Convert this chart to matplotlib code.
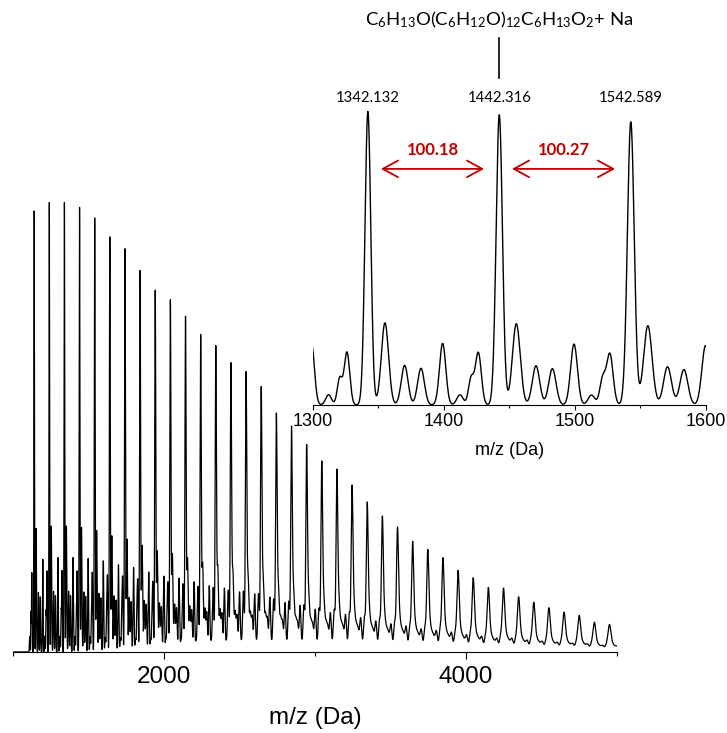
import numpy as np
import matplotlib.pyplot as plt

plt.rcParams['font.family'] = ['Liberation Sans', 'DejaVu Sans']

peak_mz = [1142.0, 1242.1, 1342.1, 1442.3, 1542.6, 1642.8, 1743.0, 1843.2, 1943.4, 2043.6,
           2143.8, 2244.0, 2344.2, 2444.4, 2544.6, 2644.8, 2745.0, 2845.2, 2945.4, 3045.6,
           3145.8, 3246.0, 3346.2, 3446.4, 3546.6, 3646.8, 3747.0, 3847.2, 3947.4, 4047.6,
           4147.8, 4248.0, 4348.2, 4448.4, 4548.6, 4648.8, 4749.0, 4849.2, 4949.4]
peak_int = [441, 450, 450, 445, 434, 415, 403, 381, 361, 351,
            334, 315, 303, 285, 275, 259, 232, 218, 199, 182,
            173, 157, 140, 126, 115, 101, 93, 85, 73, 66,
            57, 56, 48, 43, 38, 34, 31, 25, 23]

# Piki towarzyszące (przesunięcie od piku głównego, udział, szerokość) - z powiększenia
sat_offset = [-30.0, -21.5, -16.0, 13.0, 28.0, 40.5, 57.0]
sat_ratio = [0.035, 0.09, 0.18, 0.28, 0.135, 0.125, 0.21]
sat_sigma = [2.4, 2.0, 2.3, 3.0, 2.8, 2.8, 2.6]
main_sigma = 2.4

# Opisy w powiększeniu
label_mz = [1342.132, 1442.316, 1542.589]
label_txt = ['1342.132', '1442.316', '1542.589']
diff_txt = ['100.18', '100.27']
formula = r'$\mathregular{C_6H_{13}O(C_6H_{12}O)_{12}C_6H_{13}O_2}$+ Na'
red = '#C00000'


def spectrum(mz):
    y = np.zeros_like(mz)
    for m, h in zip(peak_mz, peak_int):
        w = (m / 1442.0) ** 1.1  # rozdzielczość spada z masą
        y += h * np.exp(-0.5 * ((mz - m) / (main_sigma * w)) ** 2)
        for off, r, s in zip(sat_offset, sat_ratio, sat_sigma):
            y += h * r * np.exp(-0.5 * ((mz - m - off) / (s * w)) ** 2)
    return y


fig = plt.figure(figsize=(7.27, 7.33), dpi=100)

# Widmo całe
ax = fig.add_axes([0.0175, 0.1105, 0.8312, 0.6276])
x_full = np.arange(1000, 5000, 0.2)
ax.plot(x_full, spectrum(x_full), color='black', lw=0.9)
ax.set_xlim(1000, 5000)
ax.set_ylim(0, 460)
for s in ['left', 'top', 'right']:
    ax.spines[s].set_visible(False)
ax.spines['bottom'].set_linewidth(0.8)
ax.set_yticks([])
ax.set_xticks([2000, 4000])
ax.set_xticks([1000, 3000, 5000], minor=True)
ax.tick_params(axis='x', which='major', length=5, width=0.8, labelsize=17.5, pad=5)
ax.tick_params(axis='x', which='minor', length=3, width=0.8)
ax.set_xlabel('m/z (Da)', fontsize=17.5, labelpad=14)
ax.patch.set_alpha(0)

# Powiększenie 1300-1600
ins = fig.add_axes([0.4301, 0.4475, 0.5411, 0.4093])
x_zoom = np.arange(1300, 1600.05, 0.1)
ins.plot(x_zoom, spectrum(x_zoom), color='black', lw=1.0)
ins.set_xlim(1300, 1600)
ins.set_ylim(0, 460)
for s in ['left', 'top', 'right']:
    ins.spines[s].set_visible(False)
ins.spines['bottom'].set_linewidth(0.8)
ins.set_yticks([])
ins.set_xticks([1300, 1400, 1500, 1600])
ins.set_xticks([1350, 1450, 1550], minor=True)
ins.tick_params(axis='x', which='major', length=3.6, width=0.8, labelsize=13, pad=2.5)
ins.tick_params(axis='x', which='minor', length=2.2, width=0.8)
ins.set_xlabel('m/z (Da)', fontsize=13, labelpad=8)
ins.patch.set_alpha(0)

# etykiety pików
for m, t in zip(label_mz, label_txt):
    ins.text(m, 471, t, ha='center', va='center', fontsize=10.7, family=['Lato', 'DejaVu Sans'], clip_on=False)

# wzór i kreska
ins.plot([1442.3, 1442.3], [502, 563], color='black', lw=1.2, clip_on=False)
ins.text(1442.3, 590, formula, ha='center', va='center', fontsize=13.3,
         family=['Lato', 'DejaVu Sans'], clip_on=False)

# strzałki z różnicą mas
arrow_x = [(1352, 1430.7), (1452, 1530.6)]
for (x0, x1), t in zip(arrow_x, diff_txt):
    ins.annotate('', xy=(x1, 362), xytext=(x0, 362),
                 arrowprops=dict(arrowstyle='<->,head_length=0.55,head_width=0.3',
                                 color=red, lw=1.3, mutation_scale=20,
                                 shrinkA=0, shrinkB=0),
                 annotation_clip=False)
    ins.text((x0 + x1) / 2, 391, t, ha='center', va='center', fontsize=12,
             fontweight='bold', color=red, family=['Lato', 'DejaVu Sans'])

plt.savefig('out.png', dpi=100)
